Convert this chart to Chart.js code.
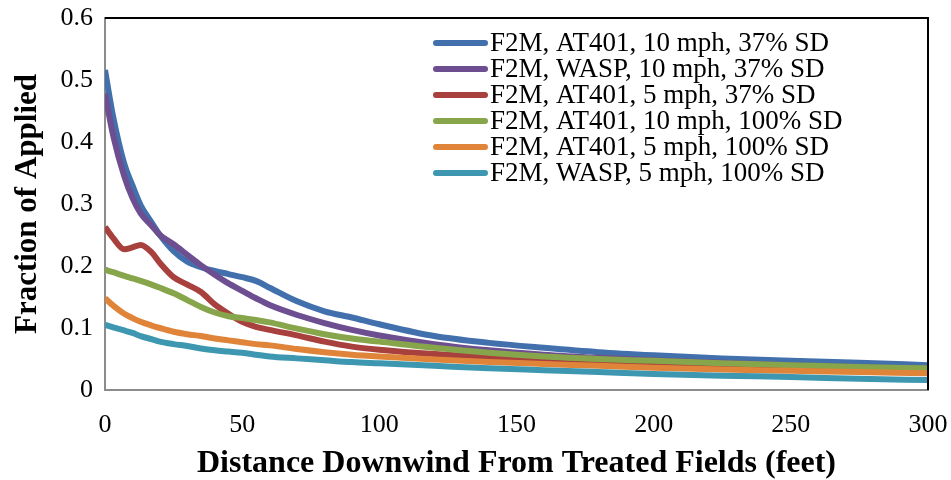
<!DOCTYPE html>
<html><head><meta charset="utf-8">
<script src="https://cdn.jsdelivr.net/npm/chart.js@4.4.1/dist/chart.umd.min.js"></script>
<style>html,body{margin:0;padding:0;background:#fff}#wrap{width:951px;height:480px;position:relative}</style>
</head><body><div id="wrap"><canvas id="c" width="951" height="480"></canvas></div>
<script>
const distances = [0,3,7,10,13,17,20,25,30,35,40,45,50,55,60,70,80,90,100,120,140,160,180,200,225,250,275,300];
const at401_10mph_37 = [0.516,0.44,0.365,0.33,0.298,0.27,0.25,0.224,0.207,0.198,0.192,0.187,0.182,0.176,0.165,0.143,0.127,0.117,0.106,0.087,0.076,0.068,0.061,0.056,0.051,0.047,0.044,0.040];
const wasp_10mph_37 = [0.478,0.41,0.345,0.31,0.285,0.265,0.25,0.235,0.218,0.201,0.186,0.172,0.160,0.148,0.137,0.121,0.108,0.097,0.088,0.074,0.064,0.057,0.052,0.048,0.044,0.040,0.037,0.034];
const at401_5mph_37 = [0.263,0.245,0.227,0.230,0.234,0.222,0.205,0.182,0.170,0.158,0.138,0.123,0.110,0.102,0.097,0.088,0.078,0.070,0.065,0.058,0.053,0.049,0.045,0.041,0.037,0.034,0.031,0.029];
const at401_10mph_100 = [0.194,0.19,0.184,0.180,0.176,0.170,0.165,0.156,0.145,0.134,0.125,0.119,0.116,0.113,0.109,0.099,0.090,0.083,0.078,0.068,0.060,0.054,0.050,0.047,0.043,0.040,0.037,0.035];
const at401_5mph_100 = [0.148,0.136,0.123,0.116,0.110,0.104,0.100,0.094,0.090,0.087,0.083,0.080,0.077,0.074,0.072,0.066,0.061,0.057,0.054,0.049,0.045,0.042,0.039,0.036,0.033,0.031,0.029,0.027];
const wasp_5mph_100 = [0.105,0.101,0.096,0.092,0.087,0.082,0.078,0.074,0.071,0.067,0.064,0.062,0.060,0.057,0.054,0.051,0.048,0.045,0.043,0.039,0.035,0.032,0.029,0.026,0.023,0.021,0.018,0.016];
const seriesLabels = ["F2M, AT401, 10 mph, 37% SD","F2M, WASP, 10 mph, 37% SD","F2M, AT401, 5 mph, 37% SD","F2M, AT401, 10 mph, 100% SD","F2M, AT401, 5 mph, 100% SD","F2M, WASP, 5 mph, 100% SD"];
const xTicks = [0,50,100,150,200,250,300];
const yTicks = [0,0.1,0.2,0.3,0.4,0.5,0.6];
const colors = ['#4170AC','#6D4F91','#A8403D','#87A54A','#E0843A','#3D97B0'];

const allSeries = [at401_10mph_37,wasp_10mph_37,at401_5mph_37,at401_10mph_100,at401_5mph_100,wasp_5mph_100];
const datasets = allSeries.map((s,i)=>({
  label: seriesLabels[i],
  data: distances.map((d,j)=>({x:d,y:s[j]})),
  borderColor: colors[i], backgroundColor: colors[i],
  borderWidth: 6, pointRadius: 0, tension: 0.4, cubicInterpolationMode: 'monotone',
  order: allSeries.length - i, borderCapStyle: 'butt'
}));

const serif = "'Liberation Serif','Times New Roman',serif";

const framePlugin = {
  id: 'frame',
  afterDraw(chart){
    const {ctx, chartArea:a} = chart;
    ctx.save();
    ctx.strokeStyle = '#000'; ctx.lineWidth = 2;
    ctx.beginPath();
    ctx.moveTo(a.left, a.top); ctx.lineTo(a.right, a.top); ctx.lineTo(a.right, a.bottom);
    ctx.stroke();
    const lx = 433, lx2 = 488, ty = 43, step = 26;
    ctx.font = "27px " + serif;
    ctx.textBaseline = 'middle'; ctx.textAlign = 'left';
    chart.data.datasets.forEach((ds,i)=>{
      const y = ty + i*step;
      ctx.strokeStyle = ds.borderColor; ctx.lineWidth = 6; ctx.lineCap = 'round';
      ctx.beginPath(); ctx.moveTo(lx+3,y); ctx.lineTo(lx2-3,y); ctx.stroke();
      ctx.fillStyle = '#000';
      ctx.fillText(ds.label, lx2+2, y+1);
    });
    ctx.restore();
  }
};

new Chart(document.getElementById('c'), {
  type: 'line',
  data: { datasets },
  options: {
    responsive: false, animation: false,
    layout: { padding: { left: 0, right: 23, top: 18, bottom: 0 } },
    plugins: { legend: { display: false }, tooltip: { enabled: false } },
    scales: {
      x: {
        type: 'linear', min: 0, max: 300,
        afterBuildTicks: s => { s.ticks = xTicks.map(v=>({value:v})); },
        afterFit: s => { s.height = 90; s.paddingLeft = 0; s.paddingRight = 0; },
        grid: { display: false, drawTicks: false },
        border: { display: true, color: '#8c8c8c', width: 2 },
        ticks: { color: '#000', font: { family: serif, size: 26 }, padding: 20, maxRotation: 0 },
        title: { display: true, text: 'Distance Downwind From Treated Fields (feet)', color: '#000',
                 font: { family: serif, size: 32, weight: 'bold', lineHeight: 1 }, padding: { top: 0, bottom: 0 } }
      },
      y: {
        type: 'linear', min: 0, max: 0.6,
        afterBuildTicks: s => { s.ticks = yTicks.map(v=>({value:v})); },
        afterFit: s => { s.width = 105; s.paddingTop = 0; s.paddingBottom = 0; },
        grid: { display: false, drawTicks: false },
        border: { display: true, color: '#8c8c8c', width: 2 },
        ticks: { color: '#000', font: { family: serif, size: 26 }, padding: 12,
                 callback: v => String(v) },
        title: { display: true, text: 'Fraction of Applied', color: '#000',
                 font: { family: serif, size: 31, weight: 'bold', lineHeight: 1 }, padding: { top: 12, bottom: 0 } }
      }
    }
  },
  plugins: [framePlugin]
});
</script></body></html>
